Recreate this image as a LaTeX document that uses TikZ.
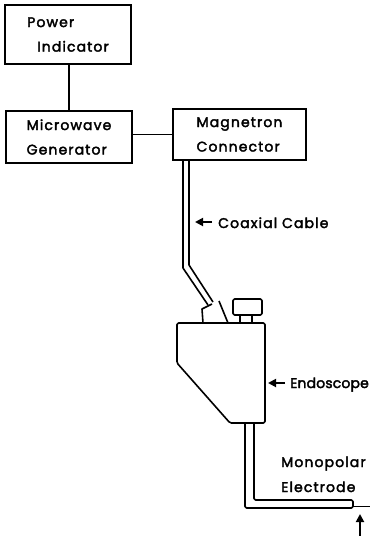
\documentclass[tikz,border=0pt]{standalone}
\usepackage{fontspec}
\setmainfont{Poppins}[LetterSpace=8,FakeBold=2.5]
\newfontfamily\tightfont{Poppins}[LetterSpace=1,FakeBold=2.5]
\usetikzlibrary{arrows.meta}
\begin{document}
\begin{tikzpicture}[x=1pt,y=-1pt,
  box/.style={draw,line width=2pt,align=left,font=\fontsize{14}{24.5}\selectfont,inner sep=0pt},
  lbl/.style={inner sep=0pt,anchor=base west,font=\fontsize{14}{24.5}\selectfont},
  part/.style={line width=1.6pt,line join=round},
  ptr/.style={line width=1.8pt,-{Triangle[length=8pt,width=8pt]}}]
\useasboundingbox (0,0) rectangle (375,536);
\fill[white] (0,0) rectangle (375,536);
% boxes
\node[box,minimum width=126pt,minimum height=59pt] (power) at (68,34.5) {Power\\\hspace*{10pt}Indicator};
\node[box,minimum width=126pt,minimum height=52pt] (micro) at (69,137) {Microwave\\Generator};
\node[box,minimum width=133pt,minimum height=51pt] (magn) at (239.5,134.5) {Magnetron\\Connector};
\draw[line width=2pt] (power.south -| 69,0) -- (micro.north -| 69,0);
\draw[line width=1.8pt] (magn.west -| micro.east) -- (magn.west);
% coaxial cable
\coordinate (ca) at (183,160);
\coordinate (cb) at (189,160);
\draw[part] (ca) -- (183,268) -- (208,305);
\draw[part] (cb) -- (189,265) -- (213,302);
% cable socket
\draw[part] (203,323) -- (202,309) -- (212,304);
\draw[part] (219,301) -- (228,323);
% knob
\draw[part,rounded corners=1.5pt] (233,299) rectangle (262,315);
\draw[part] (240,315) -- (240,323);
\draw[part] (252,315) -- (252,323);
% endoscope body
\draw[part,rounded corners=1.5pt] (177,323) -- (265,323) -- (265,423) -- (230,423) -- (177,363) -- cycle;
% electrode
\draw[part,rounded corners=1.5pt] (245,423) -- (245,508) -- (353,508) -- (353,500) -- (254,500) -- (254,423);
\draw[line width=1pt] (353,506) -- (370,506);
\coordinate (tipb) at (360,536);
\coordinate (tipt) at (360,514);
\draw[ptr] (tipb) -- (tipt);
% labels
\node[lbl] (coax) at (218,228) {Coaxial Cable};
\coordinate (coaxs) at (212,222);
\coordinate (coaxe) at (195,222);
\draw[ptr] (coaxs) -- (coaxe);
\node[lbl,font=\tightfont\fontsize{14}{24.5}\selectfont] (endo) at (290,388) {Endoscope};
\coordinate (endos) at (285,383);
\coordinate (endoe) at (268,383);
\draw[ptr] (endos) -- (endoe);
\node[lbl] (mono) at (281,467) {Monopolar};
\node[lbl] (elec) at (281,492) {Electrode};
\end{tikzpicture}
\end{document}
